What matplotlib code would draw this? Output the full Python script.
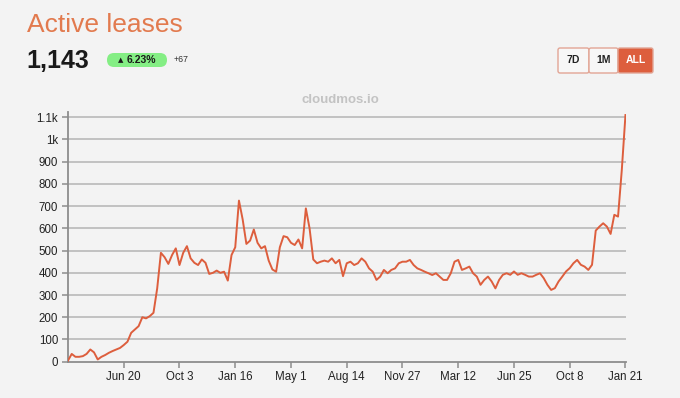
import numpy as np
import pandas as pd
import matplotlib
matplotlib.use("Agg")
import matplotlib.pyplot as plt
from matplotlib.patches import FancyBboxPatch
from matplotlib.transforms import IdentityTransform

plt.rcParams['font.family'] = ['Liberation Sans', 'DejaVu Sans']

# weekly active lease counts, starting 2021-03-07
start_date = "2021-03-07"
leases = [
    5, 35, 22, 22, 25, 35, 55, 42, 10, 22,
    30, 40, 48, 55, 62, 75, 90, 130, 145, 160,
    200, 195, 205, 220, 330, 490, 470, 440, 480, 510,
    435, 490, 520, 465, 445, 435, 460, 445, 395, 400,
    410, 400, 405, 365, 480, 515, 725, 640, 530, 545,
    595, 535, 510, 520, 455, 415, 405, 515, 565, 560,
    535, 525, 550, 510, 690, 600, 460, 443, 450, 455,
    450, 465, 443, 458, 385, 443, 450, 435, 443, 465,
    450, 420, 405, 368, 383, 413, 398, 413, 420, 443,
    450, 450, 458, 435, 420, 413, 405, 398, 390, 398,
    383, 368, 368, 398, 450, 458, 413, 420, 428, 398,
    383, 346, 368, 383, 361, 330, 368, 391, 398, 391,
    406, 391, 398, 391, 383, 383, 391, 398, 376, 346,
    323, 331, 361, 383, 406, 421, 443, 458, 436, 428,
    413, 436, 590, 608, 623, 608, 575, 661, 653, 860,
    1110,
]
tick_dates = ["2021-06-20", "2021-10-03", "2022-01-16", "2022-05-01", "2022-08-14",
              "2022-11-27", "2023-03-12", "2023-06-25", "2023-10-08", "2024-01-21"]
tick_labels = ["Jun 20", "Oct 3", "Jan 16", "May 1", "Aug 14",
               "Nov 27", "Mar 12", "Jun 25", "Oct 8", "Jan 21"]
y_ticks = [0, 100, 200, 300, 400, 500, 600, 700, 800, 900, 1000, 1100]
y_labels = ["0", "100", "200", "300", "400", "500", "600", "700", "800", "900", "1k", "1.1k"]

current = "1,143"
change_pct = "6.23%"
change_abs = "+67"
ranges = ["7D", "1M", "ALL"]

dates = pd.date_range(start_date, periods=len(leases), freq="7D")

bg = "#f3f3f3"
accent = "#dd5e3d"
W, H = 680, 398

fig = plt.figure(figsize=(6.8, 3.98), dpi=100, facecolor=bg)
ax = fig.add_axes([68 / W, 1 - 361.7 / H, 558 / W, 250 / H])
ax.set_facecolor(bg)

ax.plot(dates, leases, color=accent, lw=1.4, zorder=3)

ax.set_ylim(0, 1125)
ax.set_xlim(dates[0], pd.Timestamp(tick_dates[-1]) + pd.Timedelta(days=1))
ax.set_yticks(y_ticks)
ax.set_yticklabels(y_labels)
ax.set_xticks(pd.to_datetime(tick_dates))
ax.set_xticklabels(tick_labels)

for v in y_ticks[1:]:
    ax.axhline(v, color="#b4b4b4", lw=1.1, zorder=1)

for s in ["top", "right"]:
    ax.spines[s].set_visible(False)
for s in ["left", "bottom"]:
    ax.spines[s].set_color("#8c8c8c")
    ax.spines[s].set_linewidth(1.3)
ax.tick_params(axis="both", colors="#8c8c8c", length=4, width=1.1, labelsize=8.3,
               labelcolor="#222222", pad=3)

# header
fig.text(27 / W, 1 - 25 / H, "Active leases", fontsize=19, color="#e27a4e", va="center")
fig.text(26 / W, 1 - 61 / H, current, fontsize=18, fontweight="bold", color="#1a1a1a", va="center")

pill = FancyBboxPatch((107, H - 67), 60, 14, boxstyle="round,pad=0,rounding_size=7",
                      fc="#84ee84", ec="none", transform=IdentityTransform())
fig.patches.append(pill)
fig.text(118 / W, 1 - 60 / H, "\u25b2", fontsize=5, color="#1a1a1a", va="center",
         family=["DejaVu Sans"])
fig.text(127 / W, 1 - 60 / H, change_pct, fontsize=7.5, fontweight="bold", color="#1a1a1a", va="center")
fig.text(174 / W, 1 - 60 / H, change_abs, fontsize=6.3, color="#333333", va="center")

# range buttons
edges = [558, 589, 618, 653]
for i, lab in enumerate(ranges):
    x0, x1 = edges[i], edges[i + 1]
    active = lab == "ALL"
    btn = FancyBboxPatch((x0, H - 73), x1 - x0, 25, boxstyle="round,pad=0,rounding_size=2",
                         fc=accent if active else "#f7f7f7", ec="#e2a595", lw=1,
                         transform=IdentityTransform())
    fig.patches.append(btn)
    fig.text((x0 + x1) / 2 / W, 1 - 60 / H, lab, fontsize=7.5, fontweight="bold",
             color="white" if active else "#222222", ha="center", va="center")

fig.text(340 / W, 1 - 100 / H, "cloudmos.io", fontsize=9.5, fontweight="bold",
         color="#c3c3c3", ha="center", va="center")

fig.savefig("out.png", dpi=100, facecolor=bg)
